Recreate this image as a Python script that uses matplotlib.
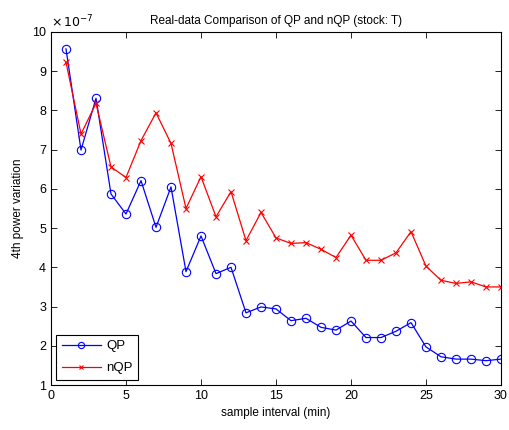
import matplotlib
matplotlib.use("Agg")
import matplotlib.pyplot as plt
import numpy as np

plt.rcParams['font.family'] = ['Liberation Sans', 'DejaVu Sans']

intervals = list(range(1, 31))
qp = [9.57, 6.99, 8.31, 5.87, 5.36, 6.21, 5.02, 6.05, 3.89, 4.80,
      3.84, 4.00, 2.84, 2.99, 2.94, 2.64, 2.70, 2.47, 2.40, 2.63,
      2.21, 2.21, 2.37, 2.59, 1.97, 1.72, 1.66, 1.66, 1.62, 1.66]
nqp = [9.23, 7.40, 8.18, 6.56, 6.29, 7.23, 7.94, 7.16, 5.50, 6.31,
       5.29, 5.93, 4.68, 5.40, 4.75, 4.61, 4.63, 4.46, 4.25, 4.82,
       4.18, 4.18, 4.37, 4.91, 4.03, 3.67, 3.59, 3.63, 3.50, 3.50]
scale = 1e-7
xticks = [0, 5, 10, 15, 20, 25, 30]
yticks = list(range(1, 11))

fig = plt.figure(figsize=(5.09, 4.30), dpi=100)
ax = fig.add_axes([51/509, 1-385/430, 450/509, 353/430])

ax.plot(intervals, np.array(qp), color='#0000ff', lw=0.9, marker='o',
        mfc='none', mec='#0000ff', ms=6, mew=0.8, label='QP')
ax.plot(intervals, np.array(nqp), color='#ff0000', lw=0.9, marker='x',
        ms=4.5, mew=0.8, label='nQP')

ax.set_xlim(0, 30)
ax.set_ylim(1, 10)
ax.set_xticks(xticks)
ax.set_yticks(yticks)
ax.set_yticklabels([str(v) for v in yticks])
ax.tick_params(direction='in', top=True, right=True, labelsize=9, length=4, width=0.6)
for s in ax.spines.values():
    s.set_linewidth(0.8)

ax.text(0.0, 1.005, r'$\times\,10^{-7}$', transform=ax.transAxes, fontsize=9,
        ha='left', va='bottom')

ax.set_title('Real-data Comparison of QP and nQP (stock: T)', fontsize=8.5, pad=6)
ax.set_xlabel('sample interval (min)', fontsize=8.5, labelpad=4)
ax.set_ylabel('4th power variation', fontsize=8.5, labelpad=6)

leg = ax.legend(loc='lower left', fontsize=9.5, fancybox=False, edgecolor='black',
                framealpha=1, borderaxespad=0.4, handlelength=3.0,
                labelspacing=0.75, markerscale=0.75, handletextpad=0.4)
leg.get_frame().set_linewidth(0.8)

fig.savefig('out.png', dpi=100)
